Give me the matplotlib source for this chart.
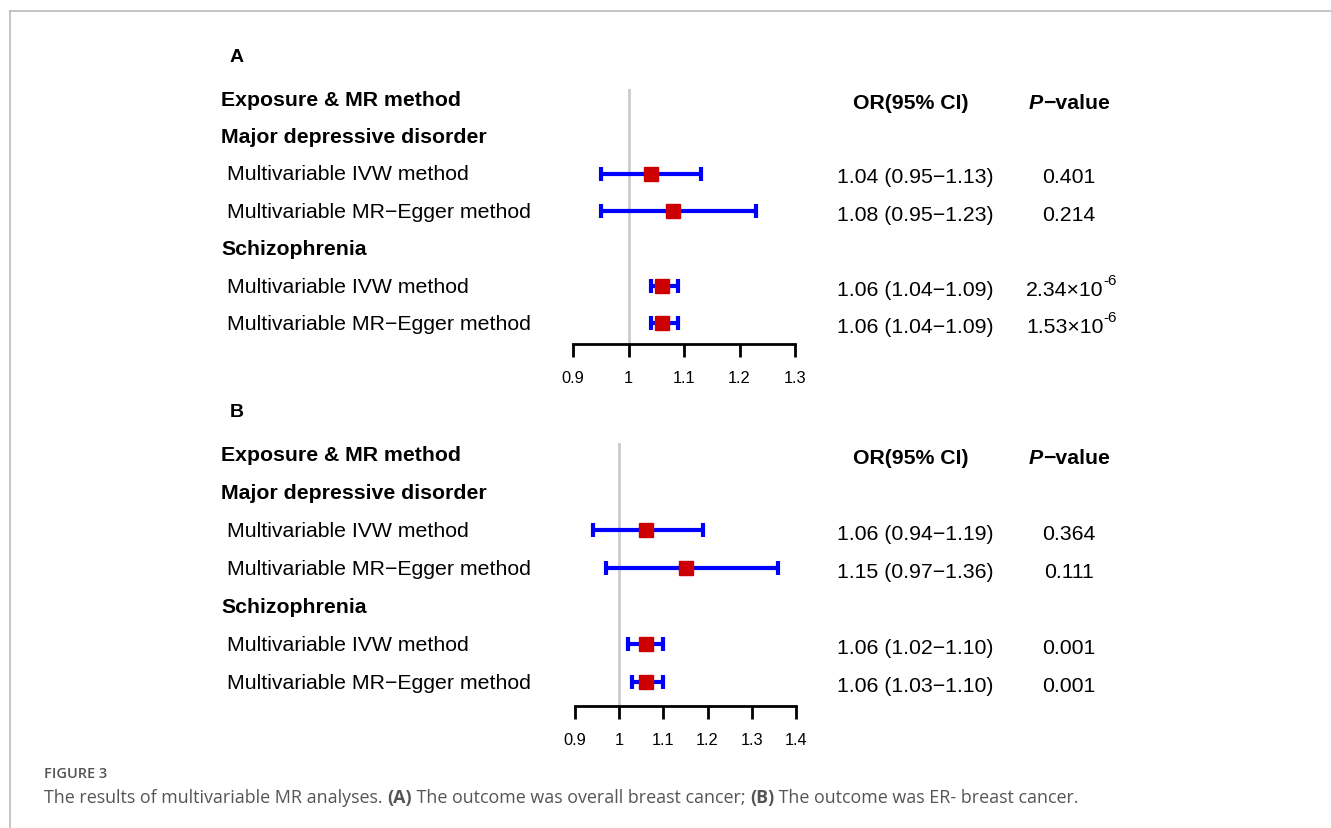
import matplotlib.pyplot as plt
from matplotlib.lines import Line2D
import matplotlib.transforms as mtransforms

plt.rcParams['font.family'] = ['Liberation Sans', 'DejaVu Sans']

# ---- data
labels = ["Exposure & MR method", "Major depressive disorder",
          "Multivariable IVW method", "Multivariable MR\u2212Egger method",
          "Schizophrenia",
          "Multivariable IVW method", "Multivariable MR\u2212Egger method"]
bold_rows = [0, 1, 4]
est_rows = [2, 3, 5, 6]

or_a = [1.04, 1.08, 1.06, 1.06]
lo_a = [0.95, 0.95, 1.04, 1.04]
hi_a = [1.13, 1.23, 1.09, 1.09]
ci_a = ["1.04 (0.95\u22121.13)", "1.08 (0.95\u22121.23)",
        "1.06 (1.04\u22121.09)", "1.06 (1.04\u22121.09)"]
p_a = [("0.401", ""), ("0.214", ""), ("2.34×10", "-6"), ("1.53×10", "-6")]
ticks_a = [0.9, 1, 1.1, 1.2, 1.3]

or_b = [1.06, 1.15, 1.06, 1.06]
lo_b = [0.94, 0.97, 1.02, 1.03]
hi_b = [1.19, 1.36, 1.10, 1.10]
ci_b = ["1.06 (0.94\u22121.19)", "1.15 (0.97\u22121.36)",
        "1.06 (1.02\u22121.10)", "1.06 (1.03\u22121.10)"]
p_b = [("0.364", ""), ("0.111", ""), ("0.001", ""), ("0.001", "")]
ticks_b = [0.9, 1, 1.1, 1.2, 1.3, 1.4]

W, H = 1331, 829
FS = 15.3
fig = plt.figure(figsize=(W / 100, H / 100), dpi=100)


def px(x0, y0, x1, y1):
    # pixel box -> figure fraction rect
    return [x0 / W, 1 - y1 / H, (x1 - x0) / W, (y1 - y0) / H]


def panel(letter, rect, ylim, est, lo, hi, ci, pv, ticks, letter_y):
    ax = fig.add_axes(rect)
    ax.set_xlim(ticks[0], ticks[-1])
    ax.set_ylim(*ylim)
    for s in ['top', 'right', 'left']:
        ax.spines[s].set_visible(False)
    ax.spines['bottom'].set_linewidth(2)
    ax.set_yticks([])
    ax.set_xticks(ticks)
    ax.set_xticklabels([f"{t:g}" for t in ticks])
    ax.tick_params(axis='x', length=9, width=2, labelsize=11.8, pad=10)
    ax.patch.set_alpha(0)
    ax.axvline(1, color='#cccccc', lw=2, zorder=0)

    for r, e, l, h in zip(est_rows, est, lo, hi):
        ax.errorbar(e, r, xerr=[[e - l], [h - e]], fmt='none', ecolor='#0000ff',
                    elinewidth=3, capsize=5, capthick=3, zorder=2, clip_on=False)
        ax.plot(e, r, 's', color='#cc0000', ms=9.5, zorder=3, clip_on=False)

    tr = mtransforms.blended_transform_factory(fig.transFigure, ax.transData)
    down = mtransforms.offset_copy(tr, fig=fig, x=0, y=-3, units='dots')
    for i, lab in enumerate(labels):
        if i in bold_rows:
            ax.text(221 / W, i, lab, transform=tr, fontsize=FS, fontweight='bold',
                    va='center', ha='left')
        else:
            ax.text(227 / W, i, lab, transform=tr, fontsize=FS,
                    va='center', ha='left')
    ax.text(911 / W, 0, "OR(95% CI)", transform=down, fontsize=FS,
            fontweight='bold', va='center', ha='center')
    t = ax.text(1029 / W, 0, "P", transform=down, fontsize=FS, fontweight='bold',
                style='italic', va='center', ha='left')
    ax.annotate("\u2212value", xy=(1, 0), xycoords=t, fontsize=FS,
                fontweight='bold', va='bottom', ha='left')
    for r, c, (p, sup) in zip(est_rows, ci, pv):
        ax.text(915 / W, r, c, transform=down, fontsize=FS, va='center', ha='center')
        if sup:
            t = ax.text(1026 / W, r, p, transform=down, fontsize=FS,
                        va='center', ha='left')
            ax.annotate(sup, xy=(1, 0.62), xycoords=t, fontsize=11,
                        va='bottom', ha='left')
        else:
            ax.text(1069 / W, r, p, transform=down, fontsize=FS,
                    va='center', ha='center')

    fig.text(230 / W, 1 - letter_y / H, letter, fontsize=14, fontweight='bold',
             va='center', ha='left')


# panel A: rows at 100 + 37.4*i px, axis at 345, gray line top at 90
panel("A", px(573, 90, 795, 345), (6.55, -0.27), or_a, lo_a, hi_a,
      ci_a, p_a, ticks_a, 58)
# panel B: rows at 455 + 37.8*i px, axis at 707, gray line top at 444
panel("B", px(575, 444, 796, 707), (6.62, -0.29), or_b, lo_b, hi_b,
      ci_b, p_b, ticks_b, 413)

# frame lines
fig.add_artist(Line2D([10 / W, 1], [1 - 12 / H, 1 - 12 / H], color='#bbbbbb', lw=1.2))
fig.add_artist(Line2D([10 / W, 10 / W], [0, 1 - 12 / H], color='#bbbbbb', lw=1.2))

# caption
cfam = ['Open Sans', 'DejaVu Sans']
fig.text(44 / W, 1 - 774 / H, "FIGURE 3", fontsize=10.5, color='#555555',
         fontweight='semibold', family=cfam, va='center', ha='left')
prev = fig.text(44 / W, 1 - 798 / H, "The results of multivariable MR analyses. ",
                fontsize=12.9, color='#555555', family=cfam, va='center', ha='left')
parts = [("(A)", 'bold'), (" The outcome was overall breast cancer; ", 'normal'),
         ("(B)", 'bold'), (" The outcome was ER- breast cancer.", 'normal')]
for txt, w in parts:
    prev = fig.add_artist(plt.Annotation(txt, xy=(1, 0), xycoords=prev, fontsize=12.9,
                                         color='#555555', fontweight=w, family=cfam,
                                         va='bottom', ha='left'))

fig.savefig("out.png", dpi=100)
